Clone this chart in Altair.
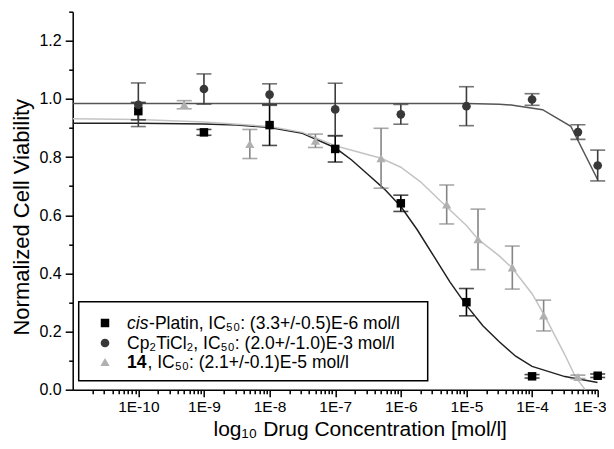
import altair as alt
import pandas as pd

# ---------------- data ----------------
# cis-Platin (black squares)
cis_conc = [1e-10, 1e-9, 1e-8, 1e-7, 1e-6, 1e-5, 1e-4, 1e-3]
cis_val = [0.958, 0.885, 0.910, 0.828, 0.641, 0.301, 0.046, 0.048]
cis_err = [0.030, 0.010, 0.070, 0.045, 0.028, 0.047, 0.006, 0.006]

# Cp2TiCl2 (dark grey circles)
cp_conc = [1e-10, 1e-9, 1e-8, 1e-7, 1e-6, 1e-5, 1e-4, 5e-4, 1e-3]
cp_val = [0.980, 1.034, 1.015, 0.964, 0.947, 0.975, 0.998, 0.886, 0.771]
cp_err = [0.075, 0.052, 0.037, 0.090, 0.034, 0.067, 0.020, 0.025, 0.053]

# compound 14 (light grey triangles)
c14_conc = [5e-10, 5e-9, 5e-8, 5e-7, 5e-6, 1.5e-5, 5e-5, 1.5e-4, 5e-4]
c14_val = [0.980, 0.845, 0.856, 0.796, 0.637, 0.517, 0.420, 0.255, 0.044]
c14_err = [0.014, 0.050, 0.023, 0.103, 0.067, 0.104, 0.074, 0.053, 0.006]

# fitted curves (log10 concentration, value)
cis_fit_log = [-11, -10, -9, -8.5, -8, -7.5, -7, -6.75, -6.5, -6.25, -6, -5.75,
               -5.5, -5.25, -5, -4.75, -4.5, -4.25, -4, -3.5, -3]
cis_fit_val = [0.916, 0.916, 0.914, 0.910, 0.902, 0.882, 0.832, 0.790, 0.740, 0.690,
               0.630, 0.550, 0.460, 0.370, 0.290, 0.220, 0.165, 0.115, 0.080, 0.045, 0.025]

cp_fit_log = [-11, -5, -4.5, -4.32, -3.84, -3.41, -3.0]
cp_fit_val = [0.984, 0.984, 0.982, 0.979, 0.963, 0.906, 0.722]

c14_fit_log = [-11, -10, -9, -8, -7.5, -7, -6.3, -6, -5.7, -5.34, -5, -4.82, -4.5,
               -4.31, -4, -3.81, -3.5, -3.34, -3.19]
c14_fit_val = [0.932, 0.929, 0.921, 0.905, 0.885, 0.839, 0.796, 0.765, 0.715, 0.637,
               0.565, 0.517, 0.460, 0.420, 0.330, 0.255, 0.120, 0.044, 0.0]

legend_labels = ["cis", "-Platin, IC₅₀: (3.3+/-0.5)E-6 mol/l",
                 "Cp₂TiCl₂, IC₅₀: (2.0+/-1.0)E-3 mol/l",
                 "14", ", IC₅₀: (2.1+/-0.1)E-5 mol/l"]

x_title = "log₁₀ Drug Concentration [mol/l]"
y_title = "Normalized Cell Viability"

# axis tick positions
exponents = list(range(-11, -3))
minor_mult = [2, 3, 4, 5, 6, 7, 8, 9]
x_ticks = [10.0 ** e for e in range(-10, -2)] + [m * 10.0 ** e for e in exponents for m in minor_mult]
y_ticks = [round(i * 0.1, 1) for i in range(14)]

FONT = "Liberation Sans"
W, H = 525, 378
LFS = 17.5  # legend font size

# ---------------- build tables ----------------
def pts(conc, val, err):
    df = pd.DataFrame({"conc": conc, "val": val, "err": err})
    df["lo"] = df["val"] - df["err"]
    df["hi"] = df["val"] + df["err"]
    return df

def fit(logc, val):
    return pd.DataFrame({"conc": [10.0 ** v for v in logc], "val": val})

is_dec = "abs(log(datum.value)/LN10 - round(log(datum.value)/LN10)) < 0.001"
x_axis = alt.Axis(
    values=x_ticks,
    labelExpr=f"({is_dec}) && datum.value > 2e-11 ? '1E' + round(log(datum.value)/LN10) : ''",
    tickSize={"condition": {"test": is_dec, "value": 7}, "value": 4},
    labelOffset={"condition": {"test": "datum.value > 9e-4", "value": -8}, "value": 0},
    title=x_title, grid=False, labelFontSize=15.5, titleFontSize=21,
    labelPadding=3, labelFlush=False, labelOverlap=False,
    titleX=287, titleY=45.5, titleBaseline="alphabetic", titleFontWeight="normal",
    domainColor="black", tickColor="black", domainWidth=1.5, tickWidth=1.5,
    labelColor="black", titleColor="black", labelFont=FONT, titleFont=FONT,
)
y_axis = alt.Axis(
    values=y_ticks,
    labelExpr="round(datum.value*10) % 2 == 0 ? format(datum.value, '.1f') : ''",
    tickSize={"condition": {"test": "round(datum.value*10) % 2 == 0", "value": 7.5}, "value": 4},
    title=y_title, grid=False, labelFontSize=16, titleFontSize=22,
    labelPadding=4, labelFlush=False, labelOverlap=False,
    titleX=-51, titleY=205, titleBaseline="middle", titleFontWeight="normal",
    domainColor="black", tickColor="black", domainWidth=1.5, tickWidth=1.5,
    labelColor="black", titleColor="black", labelFont=FONT, titleFont=FONT,
)
x_scale = alt.Scale(type="log", domain=[1e-11, 1e-3], nice=False)
y_scale = alt.Scale(domain=[0, 1.3], nice=False, zero=False)
X = alt.X("conc:Q", scale=x_scale, axis=x_axis)

series = [
    (pts(cis_conc, cis_val, cis_err), fit(cis_fit_log, cis_fit_val), "square", "#000000", "#000000", "#222222"),
    (pts(cp_conc, cp_val, cp_err), fit(cp_fit_log, cp_fit_val), "circle", "#383838", "#3c3c3c", "#555555"),
    (pts(c14_conc, c14_val, c14_err), fit(c14_fit_log, c14_fit_val), "triangle-up", "#b0b0b0", "#858585", "#c4c4c4"),
]

layers = []
for p, f, shape, fillc, errc, linec in series:
    layers.append(alt.Chart(f).mark_line(color=linec, strokeWidth=1.5, clip=True).encode(
        x=X, y=alt.Y("val:Q", scale=y_scale, axis=y_axis)))
for p, f, shape, fillc, errc, linec in series:
    layers.append(alt.Chart(p).mark_rule(color=errc, strokeWidth=1.6).encode(
        x=X, y=alt.Y("lo:Q", scale=y_scale, axis=y_axis), y2="hi:Q"))
    layers.append(alt.Chart(p).mark_tick(color=errc, orient="horizontal", size=15, thickness=1.6).encode(
        x=X, y=alt.Y("lo:Q", scale=y_scale, axis=y_axis)))
    layers.append(alt.Chart(p).mark_tick(color=errc, orient="horizontal", size=15, thickness=1.6).encode(
        x=X, y=alt.Y("hi:Q", scale=y_scale, axis=y_axis)))
for p, f, shape, fillc, errc, linec in series:
    sz = 72 if shape == "square" else (75 if shape == "circle" else 85)
    layers.append(alt.Chart(p).mark_point(shape=shape, filled=True, fill=fillc, size=sz, opacity=1).encode(
        x=X, y=alt.Y("val:Q", scale=y_scale, axis=y_axis)))

# ---------------- manual legend ----------------
one = pd.DataFrame({"k": [0]})
layers.append(alt.Chart(one).mark_rect(fill="white", stroke="black", strokeWidth=1.5).encode(
    x=alt.value(6), x2=alt.value(355), y=alt.value(290), y2=alt.value(369)))
leg_rows = [311.3, 331.3, 350.3]
for (p, f, shape, fillc, errc, linec), yy in zip(series, leg_rows):
    sz = 72 if shape == "square" else (75 if shape == "circle" else 85)
    layers.append(alt.Chart(one).mark_point(shape=shape, filled=True, fill=fillc, size=sz, opacity=1).encode(
        x=alt.value(32.3), y=alt.value(yy)))

def txt(s, x, y, style="normal", weight="normal"):
    return alt.Chart(pd.DataFrame({"t": [s]})).mark_text(
        align="left", baseline="alphabetic", font=FONT, fontSize=LFS,
        fontStyle=style, fontWeight=weight, color="black").encode(
        x=alt.value(x), y=alt.value(y), text="t:N")

off = 0.716 * LFS / 2
layers.append(txt(legend_labels[0], 54.3, leg_rows[0] + off, style="italic"))
layers.append(txt(legend_labels[1], 55.0 + 1.222 * LFS, leg_rows[0] + off))
layers.append(txt(legend_labels[2], 54.3, leg_rows[1] + off))
layers.append(txt(legend_labels[3], 54.3, leg_rows[2] + off, weight="bold"))
layers.append(txt(legend_labels[4], 55.3 + 1.112 * LFS, leg_rows[2] + off))

chart = alt.layer(*layers).properties(
    width=W, height=H,
    autosize="none",
    padding={"left": 64.7, "top": 3.7, "right": 8.3, "bottom": 51},
    background="white",
).configure_view(stroke=None)

chart.save("out.html", embed_options={"renderer": "svg", "actions": False})
